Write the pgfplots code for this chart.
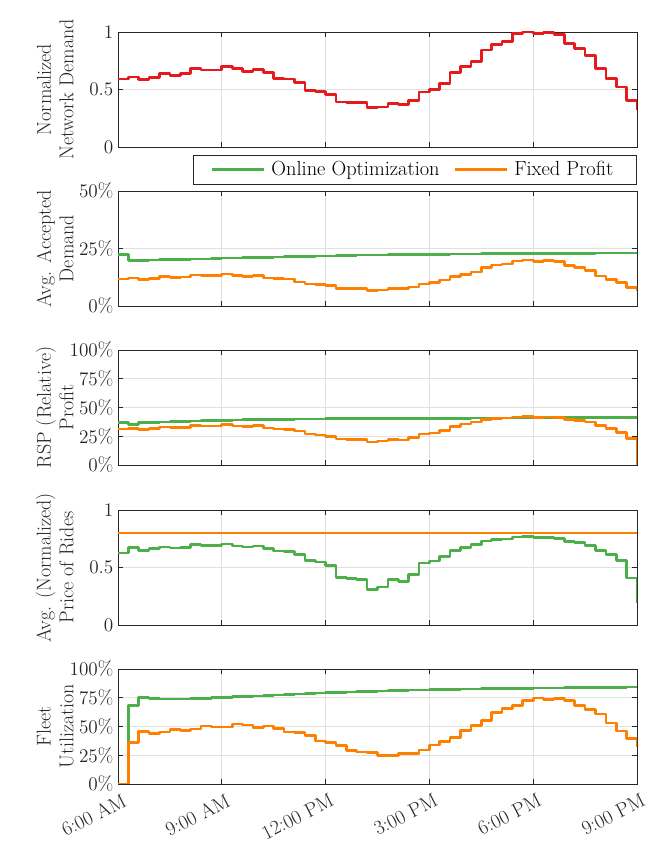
\documentclass[border=0pt]{standalone}
\usepackage{pgfplots}
\pgfplotsset{compat=1.18}
\usepackage{pgfplotstable}
\definecolor{cred}{RGB}{228,26,28}
\definecolor{cgreen}{RGB}{77,175,74}
\definecolor{corange}{RGB}{255,127,0}
\definecolor{cgrid}{RGB}{224,224,224}
\definecolor{caxis}{RGB}{38,38,38}

\pgfplotstableread{
x d accG accO profG profO priceG fleetG fleetO
6.0 0.590 22.3 11.7 37.0 31.3 0.626 0 0
6.3 0.610 19.7 12.1 35.5 31.9 0.673 68.0 36.3
6.6 0.587 19.9 11.4 36.8 30.7 0.649 75.3 45.6
6.9 0.605 20.0 12.0 37.1 31.9 0.664 74.3 43.9
7.2 0.640 20.1 12.7 37.4 33.0 0.678 73.9 45.1
7.5 0.620 20.2 12.4 37.7 32.5 0.670 73.8 47.4
7.8 0.640 20.3 12.6 38.0 32.7 0.675 73.9 46.5
8.1 0.680 20.4 13.5 38.3 34.5 0.699 74.2 47.7
8.4 0.670 20.5 13.2 38.5 33.9 0.690 74.6 50.3
8.7 0.670 20.6 13.2 38.7 33.9 0.690 75.0 49.7
9.0 0.700 20.8 13.9 38.9 35.1 0.705 75.4 49.7
9.3 0.683 20.9 13.2 39.1 33.9 0.687 75.8 52.3
9.6 0.657 21.0 12.9 39.3 33.3 0.678 76.2 51.2
9.9 0.674 21.1 13.3 39.5 34.2 0.687 76.6 49.1
10.2 0.648 21.2 12.1 39.6 32.2 0.664 77.0 50.3
10.5 0.593 21.3 12.0 39.7 31.3 0.643 77.4 48.5
10.8 0.590 21.4 11.8 39.8 31.0 0.637 77.8 45.3
11.1 0.560 21.5 10.5 39.9 29.5 0.611 78.2 44.5
11.4 0.494 21.6 9.5 40.0 26.9 0.561 78.6 41.9
11.7 0.480 21.7 9.2 40.1 26.0 0.547 79.0 37.5
12.0 0.456 21.8 8.8 40.2 24.9 0.515 79.4 35.8
12.3 0.390 21.9 7.7 40.3 22.5 0.415 79.7 33.7
12.6 0.384 22.0 7.7 40.3 22.2 0.404 80.0 29.4
12.9 0.384 22.1 7.6 40.4 21.9 0.398 80.3 27.9
13.2 0.343 22.1 6.7 40.4 19.9 0.307 80.6 27.6
13.5 0.349 22.2 6.9 40.5 20.8 0.330 80.9 25.0
13.8 0.380 22.3 7.6 40.5 22.2 0.395 81.2 25.0
14.1 0.370 22.3 7.5 40.5 21.6 0.380 81.4 26.7
14.4 0.407 22.4 8.3 40.6 24.0 0.439 81.6 26.7
14.7 0.477 22.4 9.5 40.6 26.9 0.538 81.8 29.7
15.0 0.500 22.5 10.1 40.6 27.8 0.556 82.0 34.0
15.3 0.552 22.5 11.3 40.7 30.1 0.594 82.2 36.9
15.6 0.648 22.6 12.7 40.7 33.6 0.649 82.4 40.4
15.9 0.698 22.6 13.7 40.7 35.7 0.673 82.6 46.8
16.2 0.744 22.6 14.8 40.8 37.4 0.699 82.7 50.9
16.5 0.843 22.7 16.8 40.8 39.8 0.731 82.9 55.2
16.8 0.892 22.7 17.8 40.8 40.6 0.743 83.0 62.2
17.1 0.916 22.7 18.3 40.9 40.9 0.749 83.1 65.7
17.4 0.985 22.8 19.6 40.9 41.8 0.766 83.2 68.0
17.7 1.000 22.8 20.0 40.9 42.1 0.772 83.3 72.7
18.0 0.985 22.8 19.4 41.0 41.5 0.760 83.4 74.7
18.3 0.997 22.8 19.7 41.0 41.8 0.763 83.5 73.3
18.6 0.977 22.9 19.2 41.0 41.2 0.754 83.6 74.1
18.9 0.900 22.9 17.5 41.1 39.5 0.725 83.7 72.7
19.2 0.855 22.9 16.8 41.1 38.9 0.716 83.8 68.0
19.5 0.797 22.9 15.4 41.1 37.4 0.693 83.9 64.5
19.8 0.680 23.0 13.0 41.2 34.2 0.649 84.0 61.0
20.1 0.596 23.0 11.5 41.2 31.6 0.611 84.1 52.9
20.4 0.523 23.0 10.2 41.2 28.4 0.561 84.2 46.2
20.7 0.404 23.0 8.0 41.3 23.1 0.409 84.3 39.8
21.0 0.320 23.0 6.6 41.3 0.0 0.187 84.3 32.0
}\data

\pgfplotsset{
  panel/.style={
    scale only axis, width=389.25pt, height=86.25pt,
    anchor=south west,
    xmin=6, xmax=21, xtick={6,9,12,15,18,21},
    xticklabels={},
    grid=major, major grid style={cgrid, line width=0.5pt},
    axis line style={caxis, line width=0.6pt},
    tick style={caxis, line width=0.6pt},
    major tick length=4pt,
    font=\fontsize{15}{17}\selectfont,
    ticklabel style={font=\fontsize{15}{17}\selectfont, text=caxis},
    ylabel style={at={(axis description cs:-0.085,0.5)}, anchor=south, align=center, inner sep=0pt, text=caxis},
    every axis plot/.append style={const plot, line width=2pt, no markers, line join=round},
  },
  pct/.style={yticklabel={\pgfmathprintnumber{\tick}\%}},
}

\begin{document}
\begin{tikzpicture}
\useasboundingbox (0,0) rectangle (487.5pt,631.5pt);

% Panel 1
\begin{axis}[panel, at={(88.5pt,521.25pt)}, ymin=0, ymax=1, ytick={0,0.5,1},
  ylabel={Normalized\\Network Demand}]
\addplot[cred] table[x=x, y=d] {\data};
\end{axis}

% Panel 2
\begin{axis}[panel, pct, at={(88.5pt,402pt)}, ymin=0, ymax=50, ytick={0,25,50},
  ylabel={Avg. Accepted\\Demand},
  legend columns=2,
  legend style={at={(1,1)}, anchor=south east, yshift=4.5pt, draw=caxis, line width=0.6pt,
    font=\fontsize{15.3}{17}\selectfont, inner xsep=13pt, inner ysep=3pt,
    nodes={inner xsep=4.5pt, inner ysep=2pt},
    /tikz/every even column/.append style={column sep=6pt}},
  legend image code/.code={\path (-4pt,0pt) -- (35pt,0pt);\draw[#1, line width=2pt] (0pt,0pt) -- (35pt,0pt);}]
\addplot[cgreen] table[x=x, y=accG] {\data};
\addlegendentry{Online Optimization}
\addplot[corange] table[x=x, y=accO] {\data};
\addlegendentry{Fixed Profit}
\end{axis}

% Panel 3
\begin{axis}[panel, pct, at={(88.5pt,282.75pt)}, ymin=0, ymax=100, ytick={0,25,50,75,100},
  ylabel={RSP (Relative)\\Profit}]
\addplot[cgreen] table[x=x, y=profG] {\data};
\addplot[corange] table[x=x, y=profO] {\data};
\end{axis}

% Panel 4
\begin{axis}[panel, at={(88.5pt,162.75pt)}, ymin=0, ymax=1, ytick={0,0.5,1},
  ylabel={Avg. (Normalized)\\Price of Rides}]
\addplot[cgreen] table[x=x, y=priceG] {\data};
\addplot[corange] coordinates {(6,0.8) (21,0.8)};
\end{axis}

% Panel 5
\begin{axis}[panel, pct, at={(88.5pt,43.5pt)}, ymin=0, ymax=100, ytick={0,25,50,75,100},
  ylabel={Fleet\\Utilization},
  xticklabels={6:00 AM, 9:00 AM, 12:00 PM, 3:00 PM, 6:00 PM, 9:00 PM},
  xticklabel style={xshift=3pt, yshift=-5pt, rotate=27, anchor=north east, inner sep=1pt}]
\addplot[cgreen] table[x=x, y=fleetG] {\data};
\addplot[corange] table[x=x, y=fleetO] {\data};
\end{axis}
\end{tikzpicture}
\end{document}
